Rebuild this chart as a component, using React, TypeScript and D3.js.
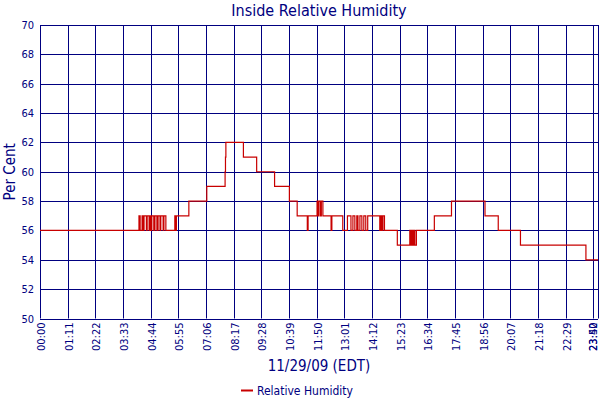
import * as d3 from 'd3';

// change points of the step series (time of change, new value)
const changeTimes = [
  '00:00', '04:14', '04:17', '04:22', '04:24', '04:27', '04:33', '04:35', '04:40', '04:42',
  '04:45', '04:47', '04:52', '04:55', '05:00', '05:03', '05:08', '05:10', '05:16', '05:18',
  '05:23', '05:46', '05:48', '05:50', '06:22', '07:08', '07:55', '07:56', '07:57', '08:42',
  '09:16', '10:02', '10:40', '11:00', '11:26', '11:28', '11:51', '11:53', '11:56', '12:00',
  '12:02', '12:06', '12:27', '12:29', '12:57', '13:09', '13:18', '13:23', '13:28', '13:33',
  '13:36', '13:41', '13:46', '13:51', '13:56', '14:01', '14:32', '14:35', '14:37', '14:40',
  '14:44', '15:17', '15:49', '15:52', '15:54', '15:57', '15:59', '16:02', '16:06', '16:52',
  '17:36', '19:02', '19:36', '20:33', '23:21',
];
const humidity = [
  56, 57, 56, 57, 56, 57, 56, 57, 56, 57,
  56, 57, 56, 57, 56, 57, 56, 57, 56, 57,
  56, 57, 56, 57, 58, 59, 60, 61, 62, 61,
  60, 59, 58, 57, 56, 57, 58, 57, 58, 57,
  58, 57, 56, 57, 56, 57, 56, 57, 56, 57,
  56, 57, 56, 57, 56, 57, 56, 57, 56, 57,
  56, 55, 56, 55, 56, 55, 56, 55, 56, 57,
  58, 57, 56, 55, 54,
];
const endTime = '23:52';
const tickStep = 71; // minutes between labelled ticks
const yTicks = [50, 52, 54, 56, 58, 60, 62, 64, 66, 68, 70];

const NAVY = '#000080';
const RED = '#c80000';
const FONT = "Tahoma, 'DejaVu Sans Condensed', 'DejaVu Sans', sans-serif";

const toMin = (s: string) => {
  const [h, m] = s.split(':').map(Number);
  return h * 60 + m;
};
const fmt = (m: number) =>
  `${String(Math.floor(m / 60)).padStart(2, '0')}:${String(m % 60).padStart(2, '0')}`;

export default function App() {
  const width = 600;
  const height = 400;
  const left = 40;
  const right = 598;
  const top = 25;
  const bottom = 318.5;

  const endMin = toMin(endTime);
  const x = d3.scaleLinear().domain([0, endMin]).range([left, right]);
  const y = d3.scaleLinear().domain([50, 70]).range([bottom, top]);

  const points: [number, number][] = changeTimes.map((t, i) => [toMin(t), humidity[i]]);
  points.push([endMin, humidity[humidity.length - 1]]);

  const line = d3
    .line<[number, number]>()
    .x((d) => x(d[0]))
    .y((d) => y(d[1]))
    .curve(d3.curveStepAfter);

  const xTicks = d3.range(0, endMin - 5, tickStep);
  xTicks.push(endMin);

  const midX = (left + right) / 2;

  return (
    <svg width={width} height={height} style={{ position: 'absolute', left: 0, top: 0 }} fontFamily={FONT}>
      <rect width={width} height={height} fill="#fff" />
      <text x={midX} y={16} textAnchor="middle" fontSize={16} fill={NAVY}>
        Inside Relative Humidity
      </text>

      {/* grid */}
      {yTicks.map((v) => (
        <g key={v}>
          <line x1={left} x2={right} y1={Math.round(y(v)) + 0.5} y2={Math.round(y(v)) + 0.5} stroke={NAVY} strokeWidth={1} />
          <text x={34} y={y(v) + 4} textAnchor="end" fontSize={11} fill={NAVY}>
            {v}
          </text>
        </g>
      ))}
      {xTicks.map((m) => {
        const px = Math.round(x(m)) + 0.5;
        return (
          <g key={m}>
            <line x1={px} x2={px} y1={top} y2={bottom} stroke={NAVY} strokeWidth={1} />
            <text
              transform={`translate(${Math.min(px + 4, 596.5)},${bottom + 4}) rotate(-90)`}
              textAnchor="end"
              fontSize={11}
              fill={NAVY}
            >
              {fmt(m)}
            </text>
          </g>
        );
      })}

      <path d={line(points) ?? ''} fill="none" stroke={RED} strokeWidth={1.2} />

      <text transform={`translate(15,${(top + bottom) / 2}) rotate(-90)`} textAnchor="middle" fontSize={15} fill={NAVY}>
        Per Cent
      </text>
      <text x={midX} y={371} textAnchor="middle" fontSize={15} fill={NAVY}>
        11/29/09 (EDT)
      </text>

      <line x1={241} x2={253} y1={390.5} y2={390.5} stroke={RED} strokeWidth={2} />
      <text x={257} y={395} fontSize={12} fill={NAVY}>
        Relative Humidity
      </text>
    </svg>
  );
}
